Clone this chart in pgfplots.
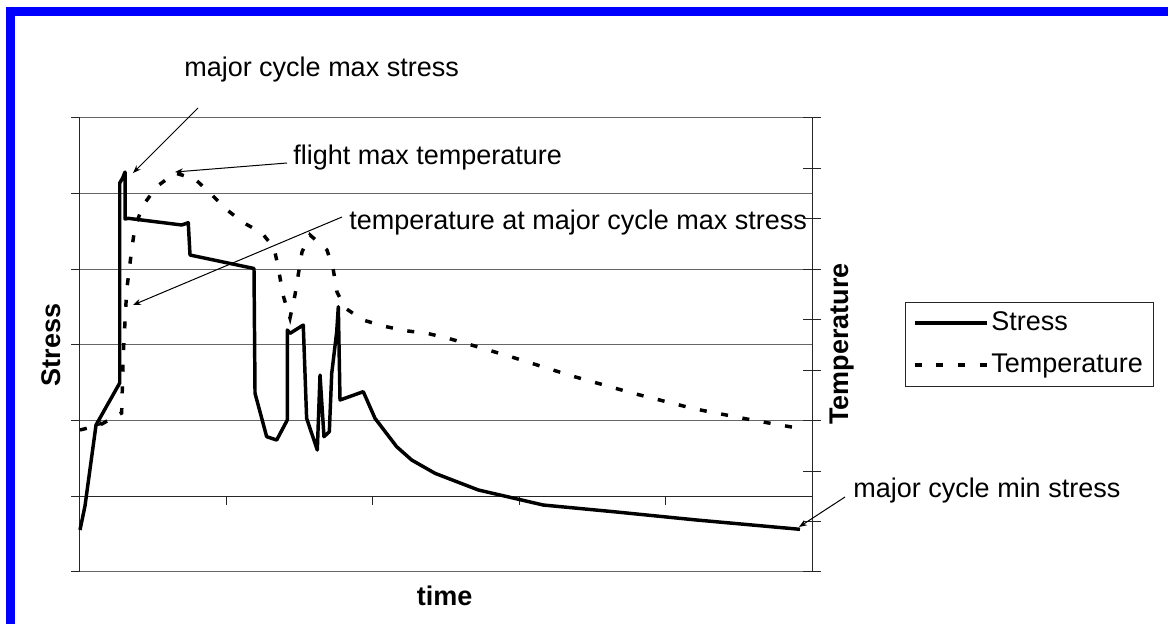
\documentclass[border=0pt]{standalone}
\usepackage{fontspec}
\setmainfont{Liberation Sans}
\usepackage{pgfplots}
\pgfplotsset{compat=1.18}
\usetikzlibrary{arrows.meta}
\definecolor{xlblue}{RGB}{0,0,255}
\newcommand\xlfont{\fontsize{20.25pt}{24pt}\selectfont}
\tikzset{
  stressline/.style={black, line width=2.6pt, line join=round},
  templine/.style={black, line width=2.6pt, dash pattern=on 5.25pt off 11pt},
}
\begin{document}
\begin{tikzpicture}
\begin{scope}[x=0.75pt,y=-0.75pt]
\path[use as bounding box] (0,0) rectangle (1168,624);
\fill[white] (0,0) rectangle (1168,624);
\end{scope}

% primary axis: stress
\begin{axis}[
  at={(60pt,-88.5pt)}, anchor=north west, scale only axis,
  width=549pt, height=340.5pt,
  xmin=0, xmax=100, ymin=-100, ymax=500,
  axis x line*=middle, axis y line*=left,
  xtick={20,40,60,80}, ytick={-100,0,...,500},
  xticklabels={}, yticklabels={},
  tick align=outside, major tick length=6.5pt,
  tick style={black!85, line width=0.75pt},
  ymajorgrids, grid style={black!60, line width=0.75pt},
  axis line style={-, black!85, line width=0.75pt},
  x axis line style={-}, y axis line style={-},
  clip=false,
]
\addplot[stressline] coordinates {
(0,-44.5) (0.68,-12.8) (2.19,94.3) (5.43,149.8) (5.43,414.1) (5.83,420.7)
(6.15,428.6) (6.15,366.5) (6.6,367.4) (13.89,358.6) (14.79,361.6) (15.03,318.9)
(23.77,301.1) (23.91,136.2) (25.5,78.8) (26.87,74.4) (28.32,100.9) (28.32,219.8)
(28.69,215.4) (30.5,226.4) (30.96,103.1) (32.42,61.2) (32.79,160.3) (33.33,78.8)
(34.06,85.4) (34.39,162.6) (35.07,217.6) (35.29,250.6) (35.52,127.3) (38.7,138.3)
(40.3,103.1) (43.26,65.6) (45.31,48) (48.5,30.4) (54.41,8.4) (58.74,-1.3)
(63.29,-11.5) (72.86,-20.3) (84.25,-31.3) (98.36,-43.6)
};
\end{axis}

% secondary axis: temperature
\begin{axis}[
  at={(60pt,-88.5pt)}, anchor=north west, scale only axis,
  width=549pt, height=340.5pt,
  xmin=0, xmax=100, ymin=0, ymax=900,
  axis y line*=right, axis x line=none,
  xtick=\empty, ytick={0,100,...,900}, yticklabels={},
  tick align=center, major tick length=13.5pt,
  tick style={black!85, line width=0.75pt},
  axis line style={-, black!85, line width=0.75pt},
  y axis line style={-},
  clip=false,
  legend cell align=left,
  legend image code/.code={\draw[#1] (0pt,0pt) -- (54pt,0pt);},
  legend style={at={(1.127,0.5954)}, anchor=north west,
    draw=black!85, line width=0.75pt, font=\xlfont,
    inner xsep=5.5pt, inner ysep=3.75pt, row sep=7.5pt,
    nodes={inner sep=2.25pt, text height=15pt, text depth=4.5pt}},
]
\addlegendimage{stressline}
\addlegendentry{Stress}
\addplot[templine] coordinates {
(0,281.5) (2.73,291.4) (5.69,315.2) (5.92,434.2) (6.38,559.1) (7.06,638.4)
(7.51,684.6) (8.65,727.6) (10.48,763.9) (12.98,791) (15.71,779.1) (18.03,747.4)
(20.08,717.7) (22.4,691.9) (24.86,672.1) (26.5,642.3) (27.05,606.7) (27.73,549.2)
(28.69,503.6) (29.37,549.2) (29.92,598.7) (30.33,634.4) (31.42,668.1) (33.74,638.4)
(34.56,602.7) (35.11,555.1) (36.2,523.4) (38.66,499.6) (41.39,487.7) (44.4,478.4)
(47.4,473.2) (50.27,463.3) (53.0,452) (58.84,426.8) (67.21,388.6) (75.55,354.3)
(84.02,323.2) (92.49,299.4) (98.36,284.5)
};
\addlegendentry{Temperature}
\end{axis}

\begin{scope}[x=0.75pt,y=-0.75pt]
% blue frame (top and left)
\fill[xlblue] (6,7) rectangle (1168,16);
\fill[xlblue] (6,7) rectangle (15,624);
% axis titles
\node[rotate=90, inner sep=0pt, font=\xlfont\bfseries] at (51.7,345) {Stress};
\node[rotate=90, inner sep=0pt, font=\xlfont\bfseries] at (841.7,344) {Temperature};
\node[anchor=base, inner sep=0pt, font=\xlfont\bfseries] at (444.7,605) {time};
% annotations
\node[anchor=base west, inner sep=0pt, font=\xlfont] at (184,77) {major cycle max stress};
\node[anchor=base west, inner sep=0pt, font=\xlfont] at (293,165) {flight max temperature};
\node[anchor=base west, inner sep=0pt, font=\xlfont] at (349,229) {temperature at major cycle max stress};
\node[anchor=base west, inner sep=0pt, font=\xlfont] at (853,497) {major cycle min stress};
\draw[black, line width=0.75pt, -{Stealth[length=6pt,width=4.5pt]}] (198,108) -- (133,173);
\draw[black, line width=0.75pt, -{Stealth[length=6pt,width=4.5pt]}] (287,163) -- (175,172);
\draw[black, line width=0.75pt, -{Stealth[length=6pt,width=4.5pt]}] (342,217) -- (133,305);
\draw[black, line width=0.75pt, -{Stealth[length=6pt,width=4.5pt]}] (845,497) -- (799,527);
\draw[black, line width=0.75pt, -{Stealth[length=5pt,width=4pt]}] (107,420) -- (97,426);
\end{scope}
\end{tikzpicture}
\end{document}
